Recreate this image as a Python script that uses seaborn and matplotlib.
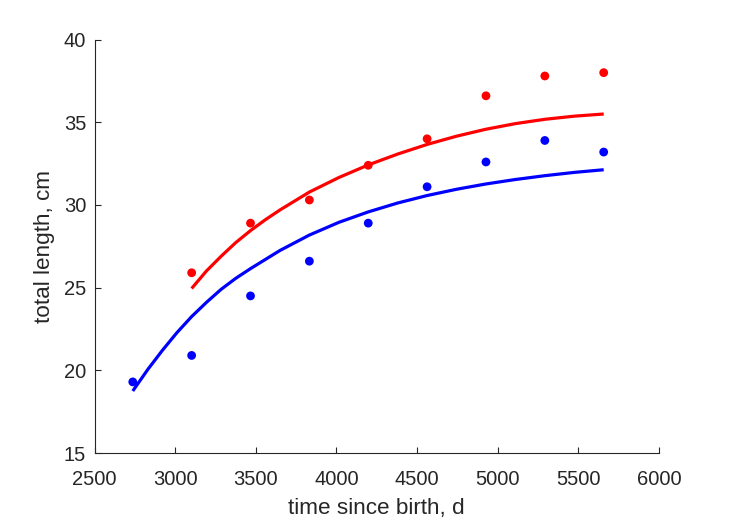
import matplotlib
matplotlib.use("Agg")
import matplotlib.pyplot as plt
import seaborn as sns

# observed data (days since birth, total length cm)
t_obs_red = [3102, 3467, 3832, 4197, 4562, 4927, 5292, 5657]
len_obs_red = [25.9, 28.9, 30.3, 32.4, 34.0, 36.6, 37.8, 38.0]
t_obs_blue = [2737, 3102, 3467, 3832, 4197, 4562, 4927, 5292, 5657]
len_obs_blue = [19.3, 20.9, 24.5, 26.6, 28.9, 31.1, 32.6, 33.9, 33.2]

# fitted curves
t_fit_blue = [2737, 2830, 2920, 3010, 3102, 3195, 3285, 3375, 3467, 3650, 3832,
              4015, 4197, 4380, 4562, 4745, 4927, 5110, 5292, 5475, 5657]
len_fit_blue = [18.75, 20.05, 21.2, 22.27, 23.25, 24.12, 24.9, 25.56, 26.15,
                27.25, 28.18, 28.95, 29.58, 30.12, 30.57, 30.95, 31.27, 31.54,
                31.77, 31.97, 32.13]
t_fit_red = [3102, 3193, 3285, 3375, 3467, 3558, 3650, 3832, 4015, 4197, 4380,
             4562, 4745, 4927, 5110, 5292, 5475, 5657]
len_fit_red = [24.95, 26.0, 26.9, 27.72, 28.45, 29.1, 29.70, 30.78, 31.66,
               32.42, 33.08, 33.66, 34.16, 34.58, 34.92, 35.18, 35.37, 35.50]

x_ticks = [2500, 3000, 3500, 4000, 4500, 5000, 5500, 6000]
y_ticks = [15, 20, 25, 30, 35, 40]

sns.set_style("white")
plt.rcParams["font.family"] = ["Liberation Sans", "DejaVu Sans"]

fig = plt.figure(figsize=(7.29, 5.21), dpi=100)
ax = fig.add_axes([0.1297, 0.1305, 0.7743, 0.7935])

gray = "#262626"
sns.lineplot(x=t_fit_blue, y=len_fit_blue, ax=ax, color="#0000ff", lw=2.3,
             sort=False, solid_capstyle="butt")
sns.lineplot(x=t_fit_red, y=len_fit_red, ax=ax, color="#ff0000", lw=2.3,
             sort=False, solid_capstyle="butt")
sns.scatterplot(x=t_obs_blue, y=len_obs_blue, ax=ax, color="#0000ff", s=40,
                edgecolor="none", zorder=3)
sns.scatterplot(x=t_obs_red, y=len_obs_red, ax=ax, color="#ff0000", s=40,
                edgecolor="none", zorder=3)

ax.set_xlim(2500, 6000)
ax.set_ylim(15, 40)
ax.set_xticks(x_ticks)
ax.set_yticks(y_ticks)
ax.tick_params(bottom=True, left=True, direction="in", length=4.5, width=0.8,
               colors=gray, labelsize=14.5)
ax.tick_params(axis="x", pad=12.5)
ax.tick_params(axis="y", pad=6)
for s in ["top", "right"]:
    ax.spines[s].set_visible(False)
for s in ["left", "bottom"]:
    ax.spines[s].set_color(gray)
    ax.spines[s].set_linewidth(0.8)
ax.set_xlabel("time since birth, d", fontsize=16.2, color=gray, labelpad=6)
ax.set_ylabel("total length, cm", fontsize=16.2, color=gray, labelpad=6.5)

fig.savefig("out.png", dpi=100)
